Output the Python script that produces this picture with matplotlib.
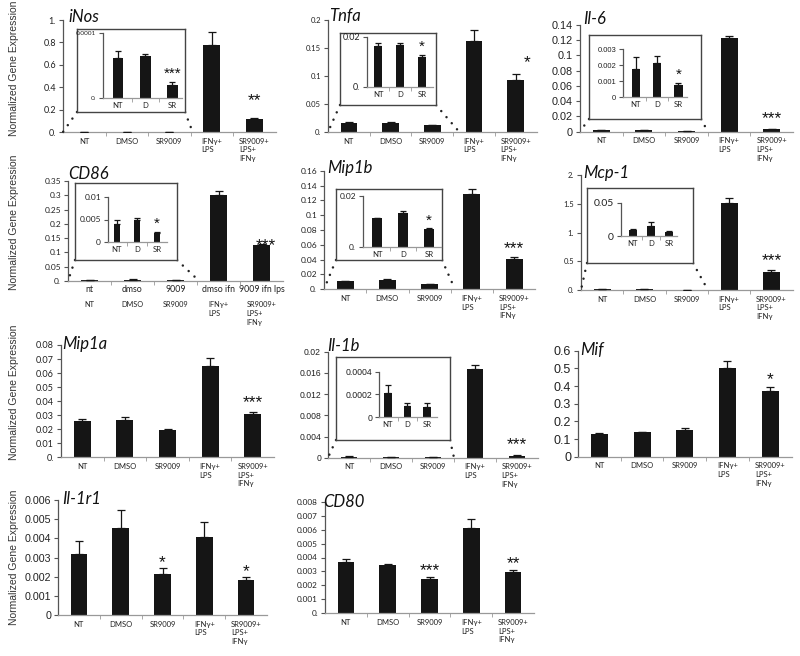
import matplotlib
matplotlib.use("Agg")
import matplotlib.pyplot as plt
from matplotlib.patches import ConnectionPatch
import numpy as np

# ---------------- data ----------------
categories = ["NT", "DMSO", "SR9009", "IFNγ+\nLPS", "SR9009+\nLPS+\nIFNγ"]
cd86_alt_categories = ["nt", "dmso", "9009", "dmso ifn", "9009 ifn lps"]
inset_categories = ["NT", "D", "SR"]

inos_values = [6.1e-5, 6.4e-5, 2.0e-5, 0.776, 0.119]
inos_errors = [1.2e-5, 0.36e-5, 0.5e-5, 0.119, 0.009]
inos_yticks = [0, 0.2, 0.4, 0.6, 0.8, 1.0]
inos_ylabels = ["0.", "0.2", "0.4", "0.6", "0.8", "1."]
inos_inset_yticks = [0, 1e-4]
inos_inset_ylabels = ["0.", "0.0001"]
inos_stars = [(4, "**")]
inos_inset_stars = [(2, "***")]

tnfa_values = [0.0164, 0.0168, 0.0120, 0.162, 0.0925]
tnfa_errors = [0.0012, 0.0008, 0.0009, 0.021, 0.0115]
tnfa_yticks = [0, 0.05, 0.1, 0.15, 0.2]
tnfa_ylabels = ["0.", "0.05", "0.1", "0.15", "0.2"]
tnfa_inset_yticks = [0, 0.02]
tnfa_inset_ylabels = ["0.", "0.02"]
tnfa_stars = [(4, "*")]
tnfa_inset_stars = [(2, "*")]

il6_values = [0.00172, 0.0021, 0.00073, 0.1225, 0.0030]
il6_errors = [0.00076, 0.00048, 0.00015, 0.0031, 0.0009]
il6_yticks = [0, 0.02, 0.04, 0.06, 0.08, 0.10, 0.12, 0.14]
il6_ylabels = ["0", "0.02", "0.04", "0.06", "0.08", "0.1", "0.12", "0.14"]
il6_inset_yticks = [0, 0.001, 0.002, 0.003]
il6_inset_ylabels = ["0", "0.001", "0.002", "0.003"]
il6_stars = [(4, "***")]
il6_inset_stars = [(2, "*")]

cd86_values = [0.0041, 0.0048, 0.0021, 0.302, 0.127]
cd86_errors = [0.0009, 0.0006, 0.0002, 0.012, 0.004]
cd86_yticks = [0, 0.05, 0.1, 0.15, 0.2, 0.25, 0.3, 0.35]
cd86_ylabels = ["0.", "0.05", "0.1", "0.15", "0.2", "0.25", "0.3", "0.35"]
cd86_inset_yticks = [0, 0.005, 0.01]
cd86_inset_ylabels = ["0", "0.005", "0.01"]
cd86_stars = [(4, "***")]
cd86_inset_stars = [(2, "*")]

mip1b_values = [0.0112, 0.0132, 0.0070, 0.1286, 0.0405]
mip1b_errors = [0.0002, 0.0010, 0.0002, 0.0065, 0.0025]
mip1b_yticks = [0, 0.02, 0.04, 0.06, 0.08, 0.10, 0.12, 0.14, 0.16]
mip1b_ylabels = ["0.", "0.02", "0.04", "0.06", "0.08", "0.1", "0.12", "0.14", "0.16"]
mip1b_inset_yticks = [0, 0.02]
mip1b_inset_ylabels = ["0.", "0.02"]
mip1b_stars = [(4, "***")]
mip1b_inset_stars = [(2, "*")]

mcp1_values = [0.009, 0.015, 0.006, 1.508, 0.319]
mcp1_errors = [0.001, 0.0055, 0.001, 0.087, 0.031]
mcp1_yticks = [0, 0.5, 1.0, 1.5, 2.0]
mcp1_ylabels = ["0.", "0.5", "1.", "1.5", "2."]
mcp1_inset_yticks = [0, 0.05]
mcp1_inset_ylabels = ["0", "0.05"]
mcp1_stars = [(4, "***")]

mip1a_values = [0.0259, 0.0266, 0.0194, 0.0653, 0.0306]
mip1a_errors = [0.0014, 0.0021, 0.0006, 0.0052, 0.0014]
mip1a_yticks = [0, 0.01, 0.02, 0.03, 0.04, 0.05, 0.06, 0.07, 0.08]
mip1a_ylabels = ["0.", "0.01", "0.02", "0.03", "0.04", "0.05", "0.06", "0.07", "0.08"]
mip1a_stars = [(4, "***")]

il1b_values = [0.00021, 0.000102, 0.000093, 0.01668, 0.00038]
il1b_errors = [0.000073, 0.000026, 0.00003, 0.0009, 0.00007]
il1b_yticks = [0, 0.004, 0.008, 0.012, 0.016, 0.02]
il1b_ylabels = ["0", "0.004", "0.008", "0.012", "0.016", "0.02"]
il1b_inset_yticks = [0, 0.0002, 0.0004]
il1b_inset_ylabels = ["0", "0.0002", "0.0004"]
il1b_stars = [(4, "***")]

mif_values = [0.130, 0.138, 0.153, 0.500, 0.374]
mif_errors = [0.006, 0.004, 0.009, 0.043, 0.022]
mif_yticks = [0, 0.1, 0.2, 0.3, 0.4, 0.5, 0.6]
mif_ylabels = ["0", "0.1", "0.2", "0.3", "0.4", "0.5", "0.6"]
mif_stars = [(4, "*")]

il1r1_values = [0.00318, 0.00452, 0.00212, 0.00409, 0.00183]
il1r1_errors = [0.00068, 0.00096, 0.00031, 0.00074, 0.00014]
il1r1_yticks = [0, 0.001, 0.002, 0.003, 0.004, 0.005, 0.006]
il1r1_ylabels = ["0", "0.001", "0.002", "0.003", "0.004", "0.005", "0.006"]
il1r1_stars = [(2, "*"), (4, "*")]

cd80_values = [0.0037, 0.00348, 0.00243, 0.00609, 0.00298]
cd80_errors = [0.00017, 0.00008, 0.00015, 0.00064, 0.0001]
cd80_yticks = [0, 0.001, 0.002, 0.003, 0.004, 0.005, 0.006, 0.007, 0.008]
cd80_ylabels = ["0.", "0.001", "0.002", "0.003", "0.004", "0.005", "0.006", "0.007", "0.008"]
cd80_stars = [(2, "***"), (4, "**")]

# ---------------- layout / style ----------------
W, H = 800, 656
fig = plt.figure(figsize=(8, 6.56), dpi=100)
CAL = ['Lato', 'DejaVu Sans']
ARI = ['Liberation Sans', 'DejaVu Sans']
BAR = '#151515'


def rect(x0, x1, ytop, ybot):
    return [x0 / W, 1 - ybot / H, (x1 - x0) / W, (ybot - ytop) / H]


def bars(ax, vals, errs, width, cap):
    x = np.arange(len(vals))
    ax.bar(x, vals, width=width, color=BAR, zorder=2)
    ax.errorbar(x, vals, yerr=[np.zeros(len(errs)), errs], fmt='none',
                ecolor=BAR, elinewidth=0.9, capsize=cap, capthick=0.9, zorder=3)


def style(ax, yticks, ylabels, font, fs, xl, cats, cfs, cpad):
    n = len(cats)
    ax.set_xlim(*xl)
    ax.set_ylim(0, yticks[-1])
    for s in ['top', 'right']:
        ax.spines[s].set_visible(False)
    ax.spines['left'].set_color('#555555')
    ax.spines['bottom'].set_color('#999999')
    ax.spines['left'].set_linewidth(0.9)
    ax.spines['bottom'].set_linewidth(0.9)
    ax.set_yticks(yticks)
    ax.set_yticklabels(ylabels, family=font, fontsize=fs, color='#222222')
    ax.tick_params(axis='y', direction='out', length=3, width=0.8, color='#555555', pad=2)
    ax.set_xticks(np.arange(n))
    ax.set_xticklabels(cats, family=CAL, fontsize=cfs, color='#222222', linespacing=1.3)
    for t in ax.get_xticklabels():
        t.set_multialignment('left')
        t.set_verticalalignment('top')
    ax.tick_params(axis='x', which='major', length=0, pad=cpad)
    ax.set_xticks(np.arange(n - 1) + 0.5, minor=True)
    ax.tick_params(axis='x', which='minor', length=3, color='#999999', direction='out')
    ax.patch.set_visible(False)


def add_stars(ax, items, vals, errs, fs, dy=9, dx=0, base_err=True):
    for i, s in items:
        top = vals[i] + (errs[i] if base_err else 0)
        ax.annotate(s, xy=(i, top), xytext=(dx, dy), textcoords='offset pixels',
                    ha='center', va='center', fontsize=fs, family=ARI, color='#111111')


main_layout = {
    'iNos':   dict(v=inos_values, e=inos_errors, yt=inos_yticks, yl=inos_ylabels, x0=63, band=42.5, ytop=20, y0=132, font=CAL, fs=6.5, title=(68, 22)),
    'Tnfa':   dict(v=tnfa_values, e=tnfa_errors, yt=tnfa_yticks, yl=tnfa_ylabels, x0=328, band=41.7, ytop=20, y0=132, font=CAL, fs=5.5, title=(329, 21)),
    'Il-6':   dict(v=il6_values, e=il6_errors, yt=il6_yticks, yl=il6_ylabels, x0=580, band=42.6, ytop=25, y0=131.5, font=ARI, fs=7.8, title=(583, 24)),
    'CD86':   dict(v=cd86_values, e=cd86_errors, yt=cd86_yticks, yl=cd86_ylabels, x0=68, band=43, ytop=181, y0=281, font=CAL, fs=6, title=(68, 179)),
    'Mip1b':  dict(v=mip1b_values, e=mip1b_errors, yt=mip1b_yticks, yl=mip1b_ylabels, x0=324, band=42.25, ytop=170.7, y0=289.3, font=CAL, fs=6, title=(327, 173)),
    'Mcp-1':  dict(v=mcp1_values, e=mcp1_errors, yt=mcp1_yticks, yl=mcp1_ylabels, x0=581, band=42.3, ytop=175, y0=290, font=CAL, fs=5.5, title=(583, 178)),
    'Mip1a':  dict(v=mip1a_values, e=mip1a_errors, yt=mip1a_yticks, yl=mip1a_ylabels, x0=61, band=42.6, ytop=345, y0=457.3, font=CAL, fs=6.6, title=(62, 349)),
    'Il-1b':  dict(v=il1b_values, e=il1b_errors, yt=il1b_yticks, yl=il1b_ylabels, x0=328, band=42, ytop=351.7, y0=457.7, font=ARI, fs=6.2, title=(327, 351)),
    'Mif':    dict(v=mif_values, e=mif_errors, yt=mif_yticks, yl=mif_ylabels, x0=578, band=42.7, ytop=350.7, y0=456.7, font=ARI, fs=9, title=(580, 355)),
    'Il-1r1': dict(v=il1r1_values, e=il1r1_errors, yt=il1r1_yticks, yl=il1r1_ylabels, x0=58, band=41.8, ytop=500, y0=615, font=ARI, fs=7.7, title=(62, 504)),
    'CD80':   dict(v=cd80_values, e=cd80_errors, yt=cd80_yticks, yl=cd80_ylabels, x0=325, band=41.8, ytop=501.7, y0=613.3, font=CAL, fs=5.9, title=(323, 507)),
}

star_layout = {
    'iNos': (inos_stars, dict(dy=17)),
    'Tnfa': (tnfa_stars, dict(dy=11, dx=11)),
    'Il-6': (il6_stars, dict(dy=10)),
    'CD86': (cd86_stars, dict(dy=-1, dx=4, base_err=False)),
    'Mip1b': (mip1b_stars, dict(dy=9)),
    'Mcp-1': (mcp1_stars, dict(dy=9)),
    'Mip1a': (mip1a_stars, dict(dy=10)),
    'Il-1b': (il1b_stars, dict(dy=11)),
    'Mif': (mif_stars, dict(dy=7)),
    'Il-1r1': (il1r1_stars, dict(dy=6)),
    'CD80': (cd80_stars, dict(dy=7)),
}

inset_layout = {
    'iNos':  dict(yt=inos_inset_yticks, yl=inos_inset_ylabels, stars=inos_inset_stars, box=(77, 29, 185, 112), ax=(103, 182, 33, 98), xl=(-0.55, 2.35), font=CAL, fs=4.6, w=0.39, right=2.55),
    'Tnfa':  dict(yt=tnfa_inset_yticks, yl=tnfa_inset_ylabels, stars=tnfa_inset_stars, box=(340, 33, 436, 105), ax=(367, 433, 37, 87), xl=(-0.5, 2.5), font=CAL, fs=6.4, w=0.38, right=2.65),
    'Il-6':  dict(yt=il6_inset_yticks, yl=il6_inset_ylabels, stars=il6_inset_stars, box=(589, 35, 701, 119), ax=(623, 687, 49, 97), xl=(-0.6, 2.4), font=ARI, fs=5.5, w=0.39, right=2.5),
    'CD86':  dict(yt=cd86_inset_yticks, yl=cd86_inset_ylabels, stars=cd86_inset_stars, box=(75, 183, 177, 260), ax=(108, 167, 197, 242), xl=(-0.45, 2.5), font=CAL, fs=6, w=0.34, right=2.55),
    'Mip1b': dict(yt=mip1b_inset_yticks, yl=mip1b_inset_ylabels, stars=mip1b_inset_stars, box=(336, 189, 442, 260), ax=(363, 441, 196, 246.7), xl=(-0.54, 2.46), font=CAL, fs=6, w=0.38, right=2.6),
    'Mcp-1': dict(yt=mcp1_inset_yticks, yl=mcp1_inset_ylabels, stars=[], box=(587, 188, 693, 263), ax=(621, 677, 203, 236), xl=(-0.65, 2.45), font=CAL, fs=7.5, w=0.44, right=2.5),
    'Il-1b': dict(yt=il1b_inset_yticks, yl=il1b_inset_ylabels, stars=[], box=(336, 357, 450, 440), ax=(379, 437, 371.7, 417.3), xl=(-0.46, 2.52), font=ARI, fs=6.3, w=0.39, right=2.5),
}

main_axes = {}
for name, L in main_layout.items():
    x1 = L['x0'] + 5 * L['band']
    ax = fig.add_axes(rect(L['x0'], x1, L['ytop'], L['y0']))
    bars(ax, L['v'], L['e'], 0.4, 3.2)
    cats = cd86_alt_categories if name == 'CD86' else categories
    style(ax, L['yt'], L['yl'], L['font'], L['fs'], (-0.5, 4.5), cats,
          6.3 if name == 'CD86' else 5.5, 3 if name == 'CD86' else 4)
    if name == 'CD86':
        for i, c in enumerate(categories):
            ax.annotate(c, xy=(i, 0), xycoords=('data', 'axes fraction'), xytext=(0, -20),
                        textcoords='offset pixels', ha='center', va='top', ma='left',
                        fontsize=5.3, family=CAL, color='#222222', linespacing=1.3)
    items, kw = star_layout[name]
    add_stars(ax, items, L['v'], L['e'], 12.5, **kw)
    fig.text(L['title'][0] / W, 1 - L['title'][1] / H, name, style='italic',
             fontsize=12, family=CAL, ha='left', va='baseline', color='#111111')
    main_axes[name] = ax

for name, I in inset_layout.items():
    L = main_layout[name]
    ax = main_axes[name]
    bx0, by0, bx1, by1 = I['box']
    bx = fig.add_axes(rect(bx0, bx1, by0, by1))
    bx.set_xticks([])
    bx.set_yticks([])
    for s in bx.spines.values():
        s.set_color('#444444')
        s.set_linewidth(1.0)
    bx.set_zorder(3)
    ax0, ax1, yt, yz = I['ax']
    ia = fig.add_axes(rect(ax0, ax1, yt, yz))
    ia.set_zorder(4)
    v3, e3 = L['v'][:3], L['e'][:3]
    bars(ia, v3, e3, I['w'], 2.2)
    style(ia, I['yt'], I['yl'], I['font'], I['fs'], I['xl'], inset_categories, 5.6, 3)
    add_stars(ia, I['stars'], v3, e3, 11, dy=8)
    for (xa, xb) in [((0, 0), (-0.5, 0)), ((1, 0), (I['right'], 0))]:
        cp = ConnectionPatch(xyA=xa, coordsA='axes fraction', axesA=bx,
                             xyB=xb, coordsB='data', axesB=ax,
                             linestyle=(0, (0.01, 3.2)), linewidth=1.8,
                             color='#222222', capstyle='round')
        fig.add_artist(cp)

for yc in [68, 222, 392, 557]:
    fig.text(14 / W, 1 - yc / H, 'Normalized Gene Expression', rotation=90,
             ha='center', va='center', fontsize=7.5, family=ARI, color='#333333')

fig.savefig('out.png', dpi=100, facecolor='white')
